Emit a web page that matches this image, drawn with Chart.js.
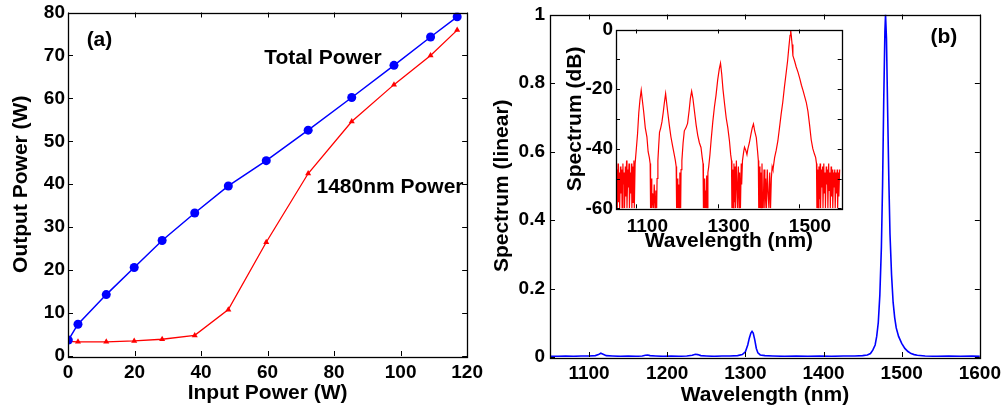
<!DOCTYPE html>
<html>
<head>
<meta charset="utf-8">
<script src="https://cdn.jsdelivr.net/npm/chart.js@4/dist/chart.umd.min.js"></script>
<style>
  html, body { margin: 0; padding: 0; background: #fff; }
  #wrap { position: relative; width: 1008px; height: 410px; overflow: hidden; }
  canvas { position: absolute; }
</style>
</head>
<body>
<div id="wrap">
  <canvas id="chartA" width="490" height="410" style="left:0;top:0;width:490px;height:410px"></canvas>
  <canvas id="chartB" width="518" height="410" style="left:490px;top:0;width:518px;height:410px"></canvas>
  <canvas id="chartInset" width="290" height="243" style="left:560px;top:17px;width:290px;height:243px"></canvas>
</div>
<script>
// ---- panel (a): output power vs input power ----
const inputPower   = [0.1, 3.0, 11.5, 19.9, 28.3, 38.1, 48.2, 59.6, 72.2, 85.3, 98.0, 109.0, 117.0];
const totalPower   = [3.7, 7.4, 14.3, 20.6, 26.9, 33.3, 39.6, 45.5, 52.6, 60.2, 67.7, 74.3, 79.0];
const power1480    = [3.4, 3.3, 3.3, 3.5, 3.9, 4.8, 10.8, 26.5, 42.5, 54.6, 63.2, 70.0, 75.9];
const startMarkX   = [0];
const startMarkY   = [3.5];
const xTicksA = [0, 20, 40, 60, 80, 100, 120];
const yTicksA = [0, 10, 20, 30, 40, 50, 60, 70, 80];

// ---- panel (b): linear spectrum ----
const specWl = [1050, 1060, 1070, 1080, 1090, 1100, 1108, 1112, 1115, 1118, 1122, 1130, 1140, 1150, 1160,
  1168, 1172, 1175, 1178, 1185, 1195, 1205, 1215, 1225, 1232, 1236, 1239, 1243, 1250, 1260, 1270, 1280,
  1290, 1296, 1300, 1303, 1305, 1307, 1308.5, 1310, 1312, 1314, 1316, 1319, 1325, 1335, 1350, 1365, 1380,
  1395, 1410, 1425, 1440, 1450, 1456, 1460, 1463, 1466, 1468, 1470, 1472, 1474, 1475.5, 1477, 1478.5,
  1479.3, 1480.5, 1482, 1483.5, 1485, 1487, 1489, 1491, 1493, 1496, 1500, 1504, 1508, 1512, 1516, 1520,
  1530, 1545, 1560, 1575, 1590, 1600];
const specLin = [0.002, 0.002, 0.003, 0.002, 0.003, 0.003, 0.004, 0.007, 0.011, 0.008, 0.004, 0.003, 0.002, 0.003, 0.002,
  0.003, 0.005, 0.006, 0.004, 0.003, 0.002, 0.003, 0.002, 0.003, 0.005, 0.008, 0.007, 0.004, 0.003, 0.002, 0.003, 0.003,
  0.004, 0.007, 0.015, 0.035, 0.055, 0.07, 0.075, 0.07, 0.05, 0.025, 0.012, 0.006, 0.004, 0.003, 0.002, 0.003, 0.002,
  0.003, 0.002, 0.003, 0.003, 0.004, 0.006, 0.01, 0.02, 0.035, 0.06, 0.1, 0.18, 0.32, 0.5, 0.75, 0.95,
  1.0, 0.93, 0.72, 0.52, 0.36, 0.24, 0.16, 0.115, 0.085, 0.06, 0.04, 0.025, 0.016, 0.01, 0.007, 0.005,
  0.003, 0.002, 0.003, 0.002, 0.003, 0.002];
const xTicksB = [1100, 1200, 1300, 1400, 1500, 1600];
const yTicksB = [0, 0.2, 0.4, 0.6, 0.8, 1];

// ---- inset: spectrum in dB ----
const insetWl = [1050, 1052, 1053, 1055, 1056, 1058, 1059, 1061, 1062, 1064, 1065, 1067, 1068, 1070,
  1071, 1073, 1074, 1076, 1077, 1079, 1080, 1082, 1083, 1085, 1086, 1088, 1089, 1091, 1092, 1094, 1095, 1097,
  1100, 1103, 1106, 1109, 1112, 1115, 1118, 1122, 1126, 1129, 1132, 1134,
  1135, 1137, 1138, 1140, 1142, 1144, 1146, 1148, 1150, 1151,
  1153, 1155, 1157, 1160, 1163, 1166, 1169, 1172, 1174, 1177, 1181, 1185, 1189, 1193, 1196, 1198,
  1199, 1201, 1202, 1204, 1205, 1207, 1209, 1210,
  1212, 1215, 1218, 1222, 1226, 1230, 1233, 1236, 1239, 1243, 1247, 1251, 1255, 1259, 1262, 1264,
  1265, 1267, 1268, 1270, 1271, 1273, 1274, 1276, 1278,
  1281, 1284, 1288, 1292, 1296, 1300, 1304, 1307, 1310, 1313, 1317, 1321, 1325, 1329, 1332, 1334,
  1335, 1337, 1338, 1340, 1341, 1343, 1344, 1346, 1348, 1349, 1351, 1353, 1354, 1356, 1358, 1359, 1361,
  1364, 1366, 1369, 1372, 1374, 1378, 1382, 1385, 1388, 1391, 1395, 1398, 1400,
  1401, 1403, 1404, 1406, 1407, 1409, 1410, 1412, 1414, 1416, 1418, 1420, 1422, 1424, 1426, 1428, 1430, 1432, 1434, 1436,
  1440, 1444, 1448, 1452, 1456, 1460, 1464, 1468, 1472, 1475, 1478, 1479.5, 1481, 1483, 1485, 1489, 1493, 1497.5,
  1502, 1506, 1510, 1514, 1518, 1522, 1526, 1530, 1534, 1538, 1541, 1543,
  1544, 1546, 1547, 1549, 1550, 1552, 1553, 1555, 1556, 1558, 1559, 1561, 1562, 1564, 1565, 1567, 1568, 1570,
  1571, 1573, 1574, 1576, 1577, 1579, 1580, 1582, 1583, 1585, 1586, 1588, 1589, 1591, 1592, 1594, 1595, 1597,
  1598, 1600];
const insetDb = [-60, -47, -60, -45, -58, -48, -60, -46, -55, -47, -60, -45, -52, -48,
  -60, -46, -56, -44, -60, -47, -53, -45, -60, -48, -55, -45, -60, -46, -58, -44, -60, -45,
  -40, -35, -28, -23.5, -20.4, -24, -27.5, -33, -36, -41, -43, -45,
  -60, -50, -60, -55, -60, -52, -60, -54, -60, -50,
  -44, -39, -34.5, -33, -31, -28, -24.5, -21.5, -24, -27.5, -32, -36, -39, -41.8, -44, -46,
  -60, -50, -60, -52, -60, -48, -60, -47,
  -44, -38, -34, -33, -31.5, -27, -23, -20.7, -23, -27.5, -32, -35.5, -38, -39.6, -43, -45,
  -60, -50, -60, -54, -60, -49, -60, -48, -46,
  -42, -37, -31, -26, -22, -17, -13.2, -11.3, -15, -20, -25, -29.7, -33, -37.4, -42, -44,
  -60, -47, -60, -45, -58, -46, -60, -44, -55, -60, -46, -60, -48, -60, -45, -52, -44,
  -41, -39.5, -40.5, -42, -40.2, -38, -35, -33, -31.7, -34, -36.3, -40.7, -44,
  -60, -46, -60, -48, -60, -45, -56, -60, -47, -60, -50, -60, -47, -55, -60, -48, -60, -50, -46, -47,
  -43, -40.5, -37.4, -33, -28.5, -24.5, -19.5, -15, -10.5, -6, -2, -0.2, -2, -5, -8.8, -10.5, -12.5, -14.3,
  -16.5, -18.7, -20.5, -22.5, -24.5, -27.5, -32, -37, -40, -41.8, -43, -45,
  -60, -47, -60, -46, -57, -45, -60, -47, -53, -46, -60, -45, -55, -48, -60, -46, -52, -47,
  -60, -45, -54, -48, -60, -46, -56, -47, -60, -48, -53, -47, -60, -48, -55, -47, -60, -48,
  -56, -47];
const xTicksInset = [1100, 1300, 1500];
const yTicksInset = [0, -10, -20, -30, -40, -50, -60];
const yLabelsInset = [0, -20, -40, -60];

const FONT = 'Liberation Sans';

function toPoints(xs, ys) {
  return xs.map((x, i) => ({x: x, y: ys[i]}));
}

// box round the plot area with ticks pointing inward on all four sides, plus text notes
const frameTicks = {
  id: 'frameTicks',
  afterDraw(chart, args, opts) {
    const ctx = chart.ctx;
    const a = chart.chartArea;
    const xs = chart.scales.x, ys = chart.scales.y;
    const len = opts.len || 5;
    ctx.save();
    ctx.strokeStyle = '#000';
    ctx.lineWidth = 1;
    ctx.beginPath();
    xs.ticks.forEach(t => {
      const px = Math.round(xs.getPixelForValue(t.value)) + 0.5;
      ctx.moveTo(px, a.bottom); ctx.lineTo(px, a.bottom - len);
      ctx.moveTo(px, a.top); ctx.lineTo(px, a.top + len);
    });
    ys.ticks.forEach(t => {
      const py = Math.round(ys.getPixelForValue(t.value)) + 0.5;
      ctx.moveTo(a.left, py); ctx.lineTo(a.left + len, py);
      ctx.moveTo(a.right, py); ctx.lineTo(a.right - len, py);
    });
    ctx.stroke();
    ctx.lineWidth = 1.3;
    ctx.strokeRect(Math.round(a.left) + 0.5, Math.round(a.top) + 0.5,
                   Math.round(a.right - a.left), Math.round(a.bottom - a.top));
    // notes placed in data coordinates
    (opts.notes || []).forEach(n => {
      ctx.font = 'bold ' + (n.size || 21) + 'px "' + FONT + '"';
      ctx.fillStyle = '#000';
      ctx.textAlign = 'left';
      ctx.textBaseline = 'middle';
      ctx.fillText(n.text, xs.getPixelForValue(n.x), ys.getPixelForValue(n.y));
    });
    ctx.restore();
  }
};

function axisOpts(cfg) {
  return {
    type: 'linear',
    position: cfg.position,
    min: cfg.min,
    max: cfg.max,
    grid: { display: false, drawTicks: false },
    border: { display: false },
    afterBuildTicks: s => { s.ticks = cfg.ticks.map(v => ({value: v})); },
    afterFit: s => {
      if (cfg.position === 'bottom') s.height = cfg.size; else s.width = cfg.size;
    },
    ticks: {
      color: '#000',
      padding: cfg.tickPad,
      labelOffset: cfg.labelOffset || 0,
      autoSkip: false,
      maxRotation: 0,
      font: { family: FONT, size: 19, weight: 'bold', lineHeight: 1 },
      callback: cfg.callback || (v => String(v))
    },
    title: {
      display: true,
      text: cfg.title,
      color: '#000',
      padding: cfg.titlePad,
      font: { family: FONT, size: 21, weight: 'bold', lineHeight: 1.2 }
    }
  };
}

Chart.defaults.animation = false;

// panel (a)
new Chart(document.getElementById('chartA'), {
  type: 'line',
  data: {
    datasets: [
      { data: toPoints(inputPower, totalPower), borderColor: '#0000ff', backgroundColor: '#0000ff',
        borderWidth: 1.5, pointStyle: 'circle', pointRadius: 4.5, pointBorderWidth: 0, order: 1 },
      { data: toPoints(inputPower, power1480), borderColor: '#ff0000', backgroundColor: '#ff0000',
        borderWidth: 1.3, pointStyle: 'triangle', pointRadius: 3.5, pointBorderWidth: 0, order: 2 },
      { data: toPoints(startMarkX, startMarkY), showLine: false, borderColor: '#000', backgroundColor: '#000',
        pointStyle: 'rect', pointRadius: 4, pointBorderWidth: 0, order: 3 }
    ]
  },
  options: {
    responsive: false,
    devicePixelRatio: 1,
    layout: { padding: { left: 0, right: 17, top: 9, bottom: 0 } },
    plugins: {
      legend: { display: false },
      tooltip: { enabled: false },
      frameTicks: {
        len: 5,
        notes: [
          { text: '(a)', x: 5.6, y: 73.5 },
          { text: 'Total Power', x: 59, y: 69.4 },
          { text: '1480nm Power', x: 74.7, y: 39.4 }
        ]
      }
    },
    scales: {
      x: axisOpts({ position: 'bottom', min: 0, max: 120, ticks: xTicksA, size: 54, tickPad: 7,
                    title: 'Input Power (W)', titlePad: { top: 0, bottom: 4.4 } }),
      y: axisOpts({ position: 'left', min: 0, max: 80, ticks: yTicksA, size: 68, tickPad: 3,
                    title: 'Output Power (W)', titlePad: { top: 8.4, bottom: 0 } })
    }
  },
  plugins: [frameTicks]
});

// panel (b)
new Chart(document.getElementById('chartB'), {
  type: 'line',
  data: {
    datasets: [
      { data: toPoints(specWl, specLin), borderColor: '#0000ff', borderWidth: 1.6, pointRadius: 0, tension: 0 }
    ]
  },
  options: {
    responsive: false,
    devicePixelRatio: 1,
    layout: { padding: { left: 0, right: 25.3, top: 10, bottom: 0 } },
    plugins: {
      legend: { display: false },
      tooltip: { enabled: false },
      frameTicks: { len: 5, notes: [ { text: '(b)', x: 1536.8, y: 0.934 } ] }
    },
    scales: {
      x: axisOpts({ position: 'bottom', min: 1050, max: 1600, ticks: xTicksB, size: 53, tickPad: 7,
                    title: 'Wavelength (nm)', titlePad: { top: 0, bottom: 2.4 } }),
      y: axisOpts({ position: 'left', min: 0, max: 1, ticks: yTicksB, size: 60, tickPad: 5,
                    title: 'Spectrum (linear)', titlePad: { top: 0, bottom: 0 } })
    }
  },
  plugins: [frameTicks]
});

// inset
new Chart(document.getElementById('chartInset'), {
  type: 'line',
  data: {
    datasets: [
      { data: toPoints(insetWl, insetDb), borderColor: '#ff0000', borderWidth: 1.2, pointRadius: 0, tension: 0 }
    ]
  },
  options: {
    responsive: false,
    devicePixelRatio: 1,
    layout: { padding: { left: 0, right: 8.3, top: 9.7, bottom: 0 } },
    plugins: {
      legend: { display: false },
      tooltip: { enabled: false },
      frameTicks: { len: 4 }
    },
    scales: {
      x: axisOpts({ position: 'bottom', min: 1050, max: 1605, ticks: xTicksInset, size: 51.7, tickPad: 9,
                    labelOffset: 11,
                    title: 'Wavelength (nm)', titlePad: { top: 0, bottom: 6.4 } }),
      y: axisOpts({ position: 'left', min: -60, max: 0, ticks: yTicksInset, size: 56, tickPad: 3,
                    title: 'Spectrum (dB)', titlePad: { top: 3.1, bottom: 0 },
                    callback: v => (yLabelsInset.includes(v) ? String(v) : '') })
    }
  },
  plugins: [frameTicks]
});
</script>
</body>
</html>
